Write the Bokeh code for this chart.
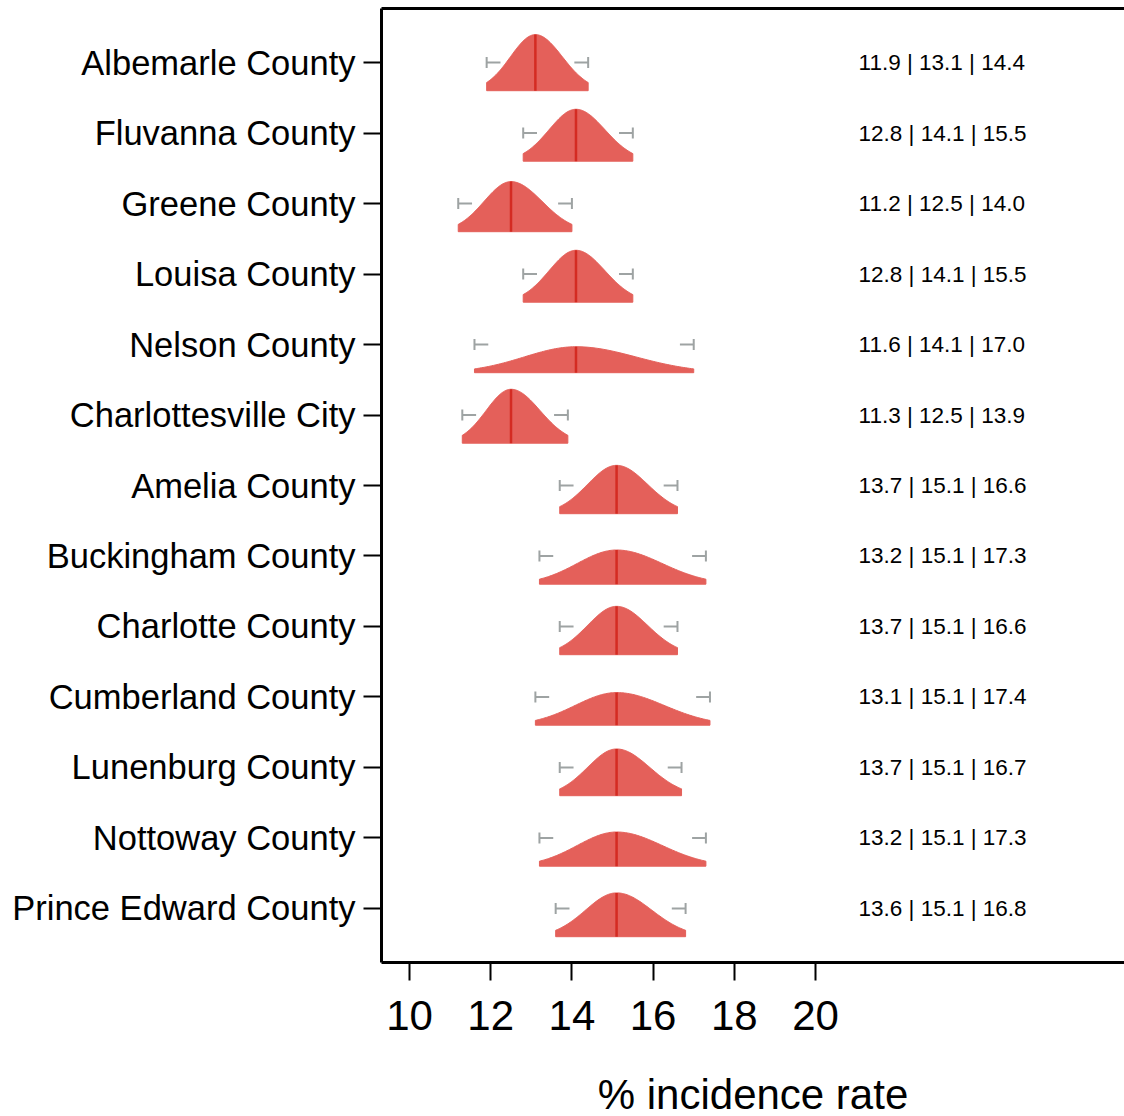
import numpy as np
from bokeh.plotting import figure
from bokeh.models import FixedTicker, LinearAxis, Range1d, ColumnDataSource
from bokeh.embed import file_html
from bokeh.resources import INLINE
from bokeh.core.properties import value

counties = ["Albemarle County", "Fluvanna County", "Greene County", "Louisa County",
            "Nelson County", "Charlottesville City", "Amelia County", "Buckingham County",
            "Charlotte County", "Cumberland County", "Lunenburg County", "Nottoway County",
            "Prince Edward County"]
lower = [11.9, 12.8, 11.2, 12.8, 11.6, 11.3, 13.7, 13.2, 13.7, 13.1, 13.7, 13.2, 13.6]
median = [13.1, 14.1, 12.5, 14.1, 14.1, 12.5, 15.1, 15.1, 15.1, 15.1, 15.1, 15.1, 15.1]
upper = [14.4, 15.5, 14.0, 15.5, 17.0, 13.9, 16.6, 17.3, 16.6, 17.4, 16.7, 17.3, 16.8]
x_ticks = [10, 12, 14, 16, 18, 20]

FONT = "Liberation Sans"
FILL = "#E4605A"
MED = "#D42B22"
WHISK = "#9EA3A3"

n = len(counties)
rows = [n - 1 - i for i in range(n)]

p = figure(frame_width=743, frame_height=954,
           x_range=Range1d(9.31, 27.61), y_range=Range1d(-0.766, 12.766),
           output_backend="svg", toolbar_location=None,
           min_border_left=381, min_border_right=0, min_border_top=8, min_border_bottom=146)
p.xgrid.visible = False
p.ygrid.visible = False
p.outline_line_color = None
p.background_fill_color = "white"
p.border_fill_color = "white"

# whisker stubs with caps (the shape covers the middle part)
cap = 0.078
stub = 0.34
p.segment(x0=lower, y0=rows, x1=[v + stub for v in lower], y1=rows, line_color=WHISK, line_width=2)
p.segment(x0=[v - stub for v in upper], y0=rows, x1=upper, y1=rows, line_color=WHISK, line_width=2)
p.segment(x0=lower, y0=[r - cap for r in rows], x1=lower, y1=[r + cap for r in rows],
          line_color=WHISK, line_width=2)
p.segment(x0=upper, y0=[r - cap for r in rows], x1=upper, y1=[r + cap for r in rows],
          line_color=WHISK, line_width=2)

# density shapes (split-normal built from the 95% interval)
base_off = 0.40
scale = 1.272
xs_all, ys_all, mx0, my0, my1 = [], [], [], [], []
for lo, md, hi, r in zip(lower, median, upper, rows):
    sig = (hi - lo) / 3.92
    h = scale * 0.3989 / sig
    sl = (md - lo) / 1.96
    sr = (hi - md) / 1.96
    xl = np.linspace(lo, md, 60)
    xr = np.linspace(md, hi, 60)[1:]
    yl = h * np.exp(-0.5 * ((xl - md) / sl) ** 2)
    yr = h * np.exp(-0.5 * ((xr - md) / sr) ** 2)
    xx = np.concatenate([[lo], xl, xr, [hi]])
    yy = np.concatenate([[0], yl, yr, [0]]) + r - base_off
    xs_all.append(list(xx))
    ys_all.append(list(yy))
    mx0.append(md)
    my0.append(r - base_off)
    my1.append(r - base_off + h)

p.patches(xs=xs_all, ys=ys_all, fill_color=FILL, line_color=FILL, line_width=1)
p.segment(x0=mx0, y0=my0, x1=mx0, y1=my1, line_color=MED, line_width=2.5)

# value labels
labels = [f"{lo:.1f} | {md:.1f} | {hi:.1f}" for lo, md, hi in zip(lower, median, upper)]
src = ColumnDataSource(dict(x=[21.06] * n, y=rows, t=labels))
p.text(x="x", y="y", text="t", source=src, text_font=value(FONT), text_font_size="22.5px",
       text_align="left", text_baseline="middle", text_color="black")

# x axis
xa = p.xaxis[0]
xa.ticker = FixedTicker(ticks=x_ticks)
xa.axis_line_width = 3
xa.major_tick_line_width = 2
xa.major_tick_out = 18
xa.major_tick_in = 0
xa.minor_tick_line_color = None
xa.major_label_text_font = FONT
xa.major_label_text_font_size = "42px"
xa.major_label_text_color = "black"
xa.major_label_standoff = 20
xa.axis_label = "% incidence rate"
xa.axis_label_text_font = FONT
xa.axis_label_text_font_size = "42px"
xa.axis_label_text_font_style = "normal"
xa.axis_label_text_color = "black"
xa.axis_label_standoff = 38

# y axis
ya = p.yaxis[0]
ya.ticker = FixedTicker(ticks=rows)
ya.major_label_overrides = {r: c for r, c in zip(rows, counties)}
ya.axis_line_width = 3
ya.major_tick_line_width = 2
ya.major_tick_out = 18
ya.major_tick_in = 0
ya.minor_tick_line_color = None
ya.major_label_text_font = FONT
ya.major_label_text_font_size = "34.5px"
ya.major_label_text_color = "black"
ya.major_label_standoff = 8

# top border line
ta = LinearAxis(ticker=FixedTicker(ticks=[]), major_label_text_font_size="0px",
                major_tick_out=0, major_tick_in=0, minor_tick_out=0, minor_tick_in=0,
                major_label_standoff=0, axis_line_width=3)
p.add_layout(ta, "above")

open("out.html", "w").write(file_html(p, INLINE))
